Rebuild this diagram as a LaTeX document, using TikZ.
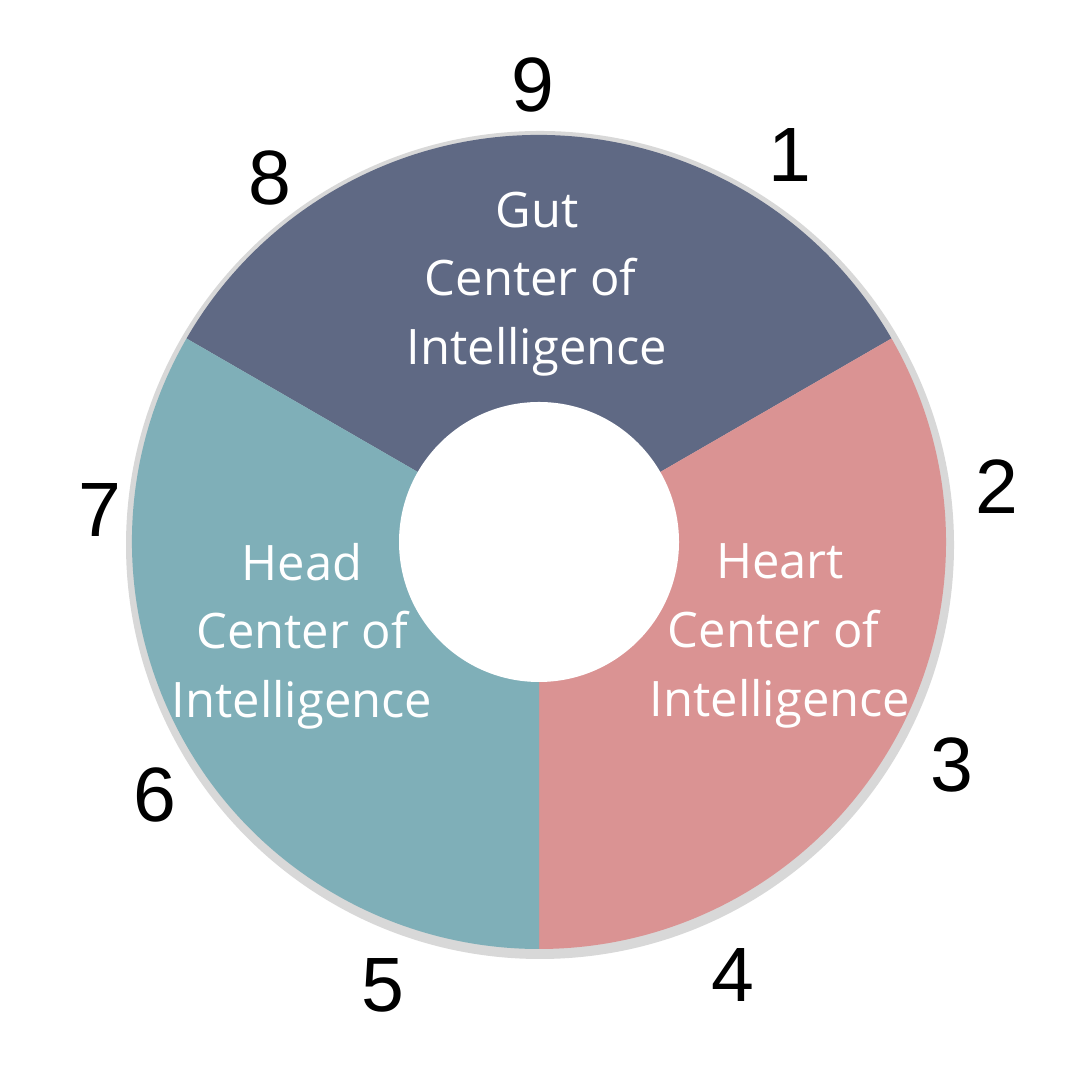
\documentclass[tikz,border=0pt]{standalone}
\usepackage{fontspec}
\setmainfont{Open Sans}
\newfontfamily\numfont{Liberation Sans}
\definecolor{gutc}{HTML}{5F6984}
\definecolor{heartc}{HTML}{DA9393}
\definecolor{headc}{HTML}{7FAFB8}
\definecolor{rimc}{HTML}{D8D8D8}
\newcommand{\trsp}{\rule{0.26em}{0pt}}
\begin{document}
\begin{tikzpicture}[x=0.01cm,y=0.01cm,
  lbl/.style={text=white,align=center,font=\fontsize{13.9}{19.5}\selectfont,inner sep=0pt},
  num/.style={font=\numfont\fontsize{21.9}{24}\selectfont,inner sep=0pt}]
\useasboundingbox[fill=white] (0,0) rectangle (1080,1080);
\coordinate (c) at (539,538);
\fill[rimc] (540,535) circle[radius=414];
\fill[gutc] (c) -- ++(30:407) arc[start angle=30,end angle=150,radius=407] -- cycle;
\fill[heartc] (c) -- ++(-90:407) arc[start angle=-90,end angle=30,radius=407] -- cycle;
\fill[headc] (c) -- ++(150:407) arc[start angle=150,end angle=270,radius=407] -- cycle;
\fill[white] (c) circle[radius=140];
\node[lbl] (gut) at (537,796) {Gut\\Center of\trsp\\Intelligence};
\node[lbl] (heart) at (780,444) {Heart\\Center of\trsp\\Intelligence};
\node[lbl] (head) at (302,444) {Head\\Center of\\Intelligence};
\node[num] (n9) at (533,995) {9};
\node[num] (n1) at (790,925) {1};
\node[num] (n2) at (997,593) {2};
\node[num] (n3) at (952,315) {3};
\node[num] (n4) at (733,105) {4};
\node[num] (n5) at (383,95) {5};
\node[num] (n6) at (155,285) {6};
\node[num] (n7) at (100,570) {7};
\node[num] (n8) at (270,902) {8};
\end{tikzpicture}
\end{document}
